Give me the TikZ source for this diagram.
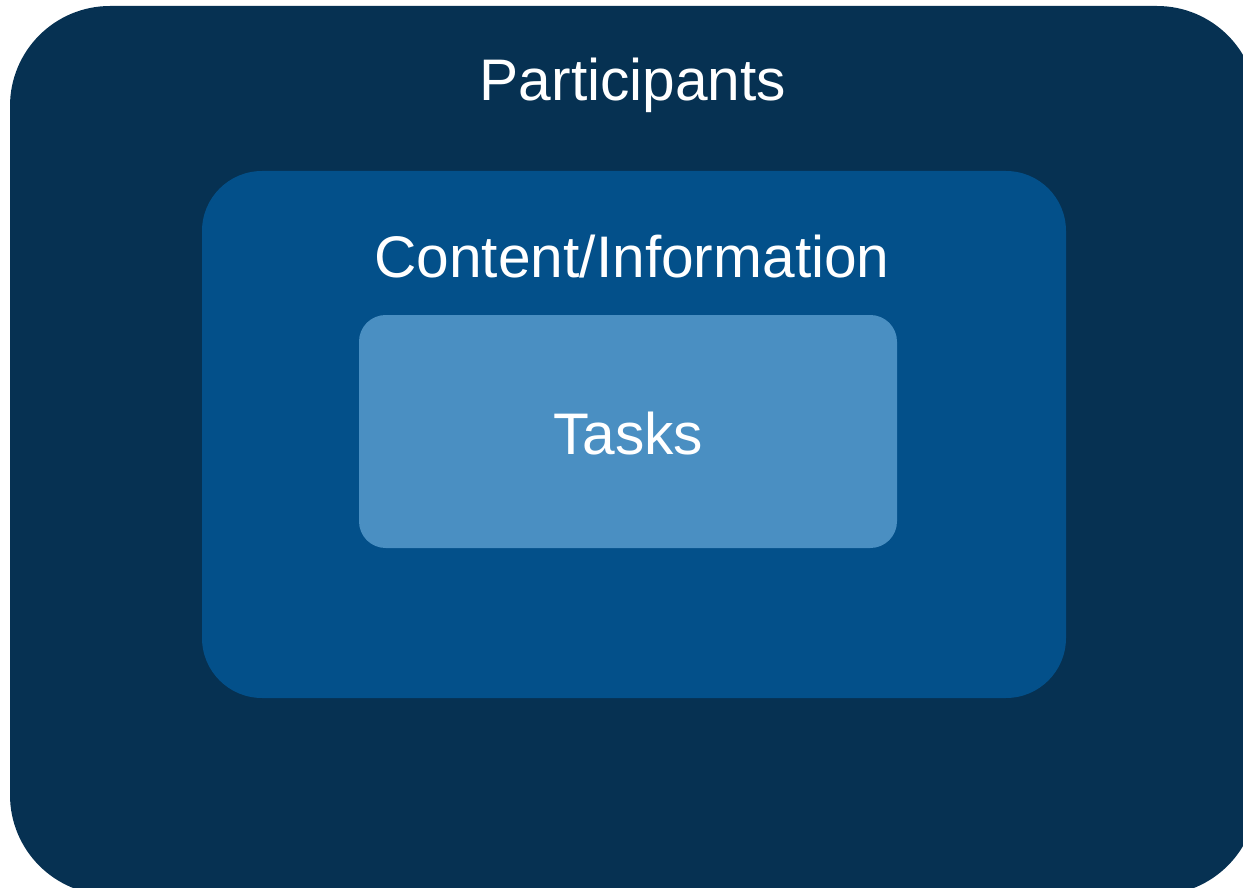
\documentclass[tikz,border=0pt]{standalone}
\usepackage{fontspec}
\setmainfont{Liberation Sans}
\usepackage{xcolor}
\usepackage{tikz}

\definecolor{outerblue}{HTML}{063152}
\definecolor{midblue}{HTML}{03508A}
\definecolor{innerblue}{HTML}{4A8FC2}

\begin{document}
\begin{tikzpicture}[x=0.75pt,y=-0.75pt,
	layer/.style={inner sep=0pt, outer sep=0pt},
	label/.style={text=white, anchor=base, font=\fontsize{44}{52}\selectfont}]

			\useasboundingbox (0,0) rectangle (1243,888);
			\clip (0,0) rectangle (1243,888);

			\node [layer, fill=outerblue, rounded corners=75pt, minimum width=935.25pt, minimum height=666.75pt] (participants) at (633.5,450.5) {};
			\node [layer, fill=midblue, rounded corners=45pt, minimum width=648pt, minimum height=395.25pt] (content) at (634,434.5) {};
			\node [layer, fill=innerblue, rounded corners=20pt, minimum width=403.5pt, minimum height=174.75pt] (tasks) at (628,431.5) {};

			\node [label] (participantstext) at (633,101) {Participants};
			\node [label] (contenttext) at (632,277) {Content/Information};
			\node [label] (taskstext) at (628,454) {Tasks};
		\end{tikzpicture}
\end{document}
